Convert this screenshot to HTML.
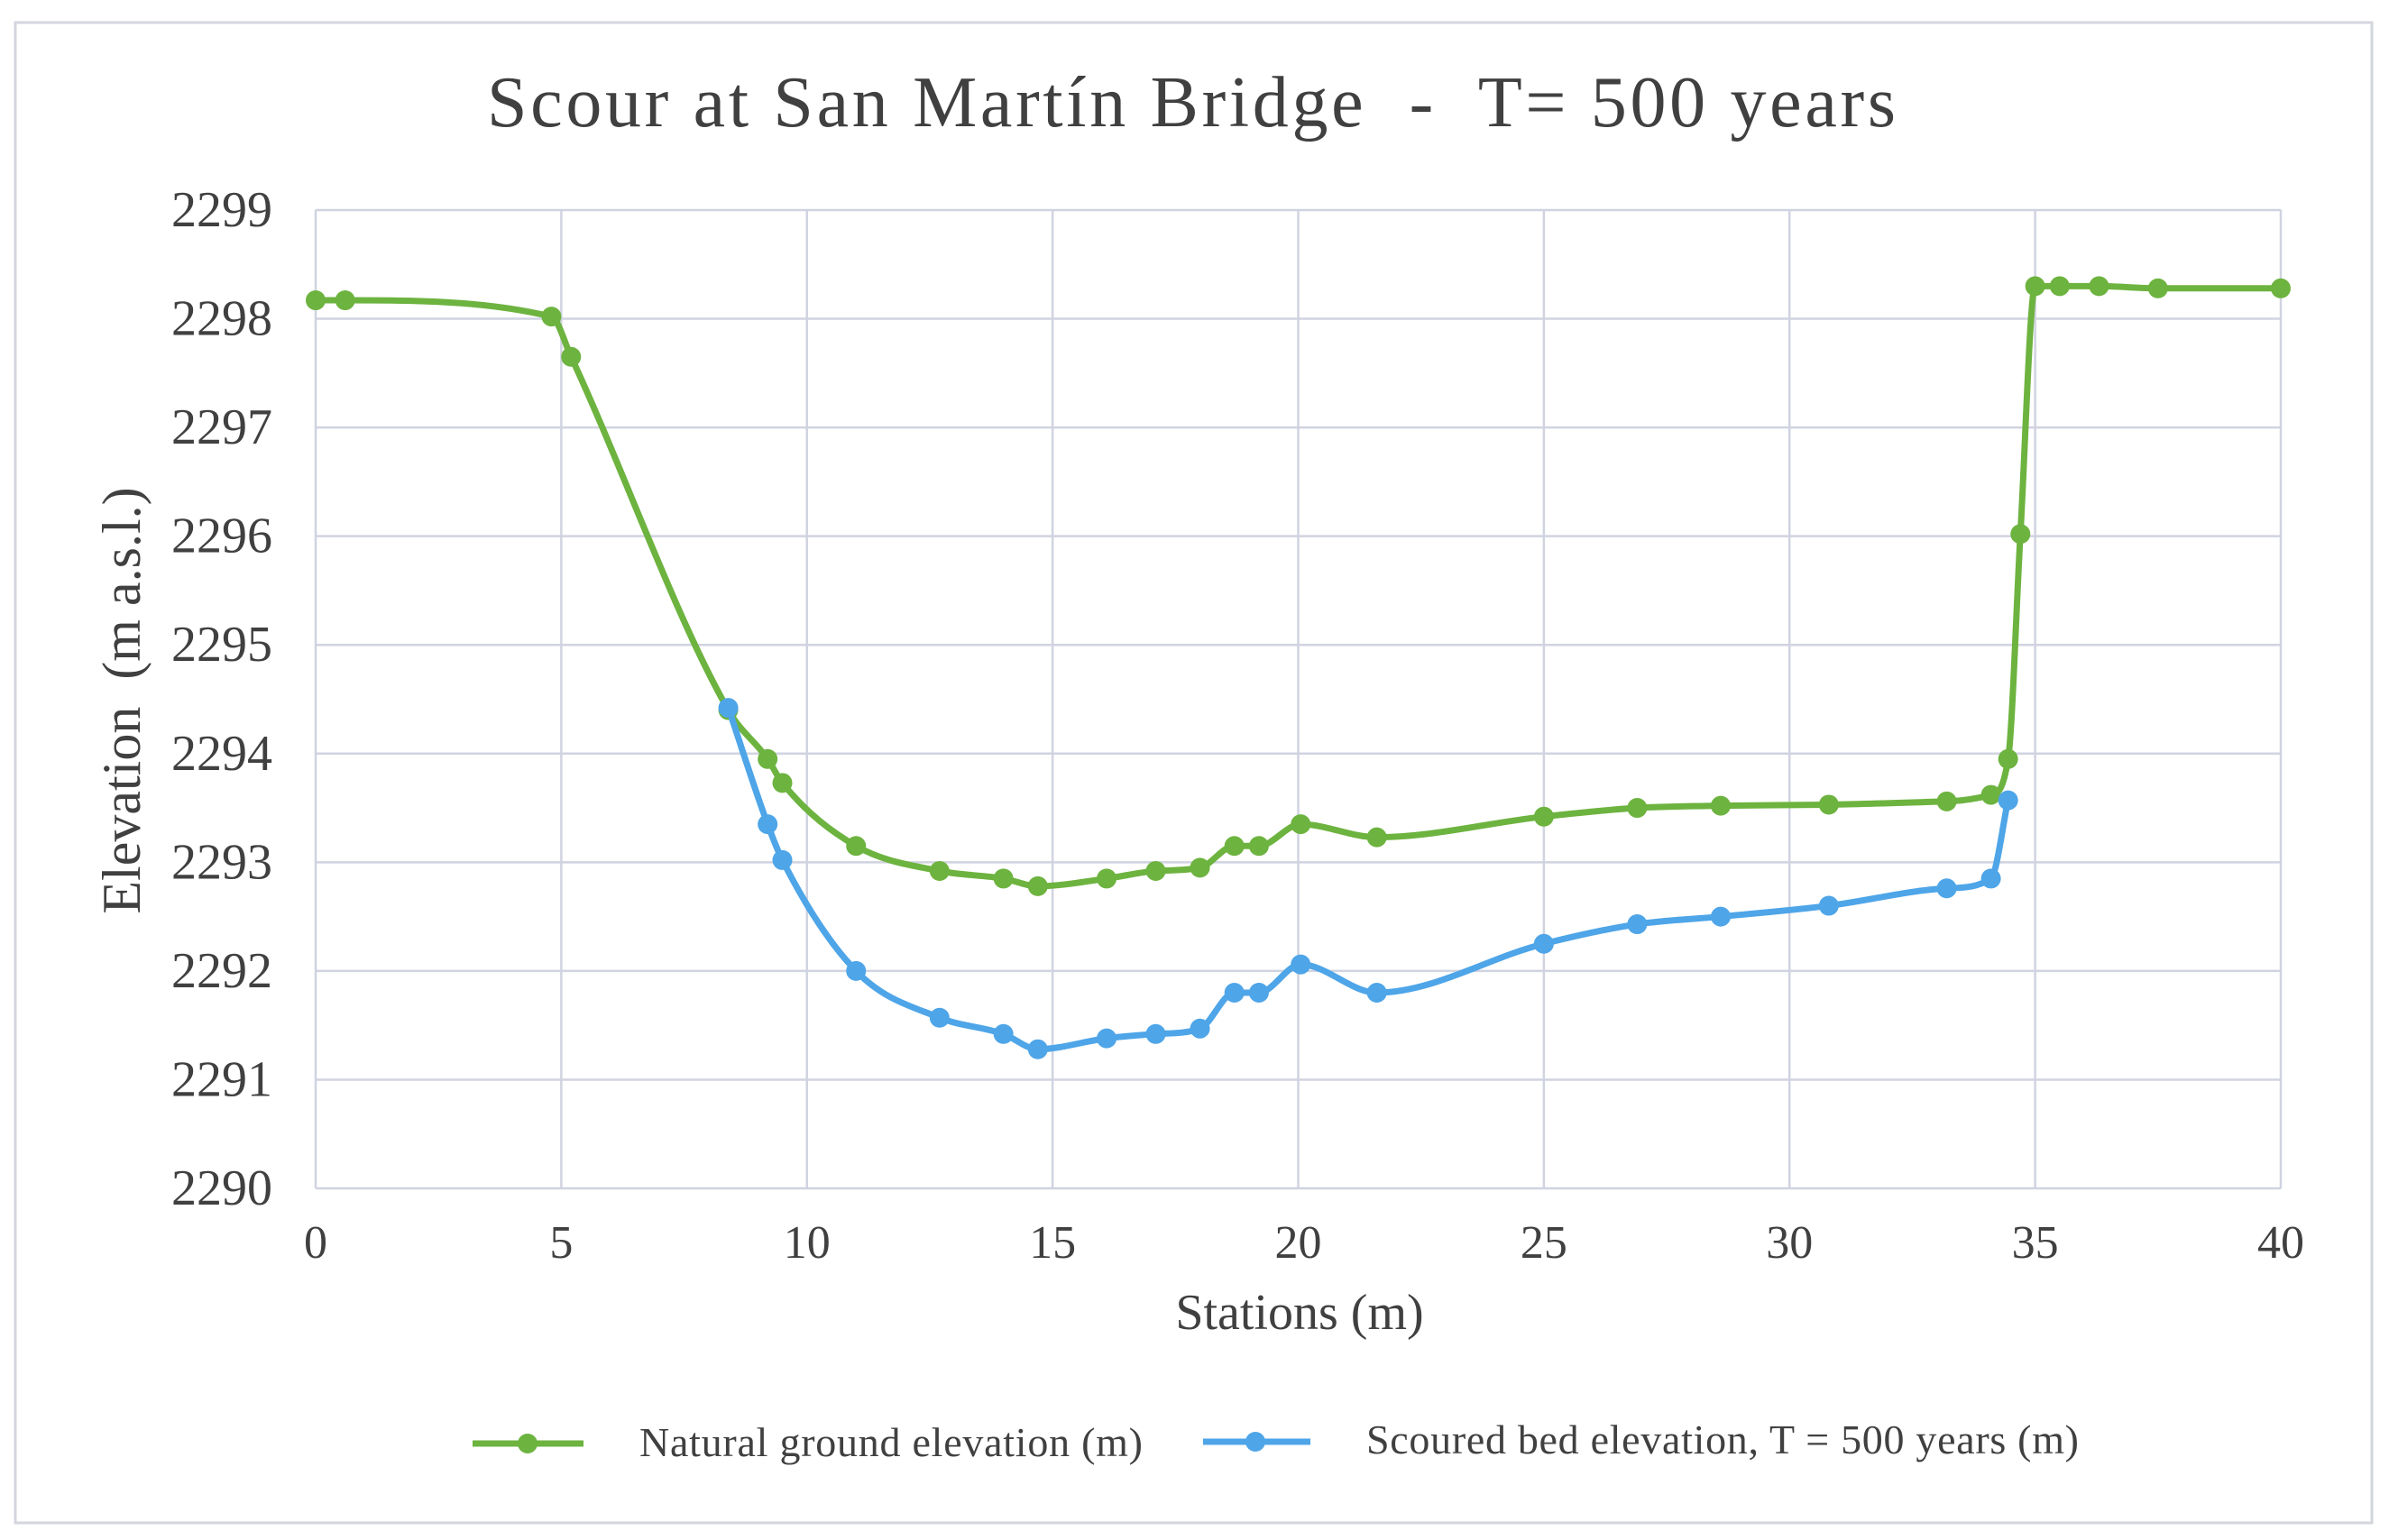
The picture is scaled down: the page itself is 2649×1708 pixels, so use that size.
<!DOCTYPE html>
<html><head><meta charset="utf-8"><style>
html,body{margin:0;padding:0;background:#fff;}
svg{display:block;}
text{font-family:"Liberation Serif",serif;fill:#404040;white-space:pre;}
</style></head><body>
<svg id="chart" width="2649" height="1708" viewBox="0 0 2649 1708">
<rect x="17" y="25" width="2613" height="1664" fill="#fff" stroke="#d4d6de" stroke-width="3"/>
<text x="540" y="140" font-size="80" textLength="1562" xml:space="preserve">Scour at San Martín Bridge  -  T= 500 years</text>
<g id="grid"></g>
<g id="ticks"></g>
<text x="1441" y="1474" font-size="56" text-anchor="middle">Stations (m)</text>
<text transform="translate(155,777) rotate(-90)" font-size="60" text-anchor="middle" xml:space="preserve">Elevation  (m a.s.l.)</text>
<g id="series"></g>
<g>
<g>
<line x1="524" y1="1601" x2="647" y2="1601" stroke="#6db33f" stroke-width="7"/>
<circle cx="585" cy="1601" r="11" fill="#6db33f"/>
<text x="709" y="1615" font-size="46" textLength="558">Natural ground elevation (m)</text>
</g>
<g>
<line x1="1334" y1="1599" x2="1453" y2="1599" stroke="#4ea5e8" stroke-width="7"/>
<circle cx="1392" cy="1599" r="11" fill="#4ea5e8"/>
<text x="1515" y="1612" font-size="46" textLength="790">Scoured bed elevation, T = 500 years (m)</text>
</g>
</g>
</svg>
<script>
const xTicks=[0,5,10,15,20,25,30,35,40];
const yTicks=[2290,2291,2292,2293,2294,2295,2296,2297,2298,2299];
const greenX=[0,0.6,4.8,5.2,8.4,9.2,9.5,11,12.7,14,14.7,16.1,17.1,18,18.7,19.2,20.05,21.6,25,26.9,28.6,30.8,33.2,34.1,34.45,34.7,35,35.5,36.3,37.5,40];
const greenY=[2298.17,2298.17,2298.02,2297.65,2294.4,2293.95,2293.73,2293.15,2292.92,2292.85,2292.78,2292.85,2292.92,2292.95,2293.15,2293.15,2293.35,2293.23,2293.42,2293.5,2293.52,2293.53,2293.56,2293.62,2293.95,2296.02,2298.3,2298.3,2298.3,2298.28,2298.28];
const blueX=[8.4,9.2,9.5,11,12.7,14,14.7,16.1,17.1,18,18.7,19.2,20.05,21.6,25,26.9,28.6,30.8,33.2,34.1,34.45];
const blueY=[2294.42,2293.35,2293.02,2292.0,2291.57,2291.42,2291.28,2291.38,2291.42,2291.47,2291.8,2291.8,2292.06,2291.8,2292.25,2292.43,2292.5,2292.6,2292.76,2292.85,2293.57];
const L=350,R=2529,T=233,B=1318;
const sx=v=>L+(v-0)/(40-0)*(R-L);
const sy=v=>B-(v-2290)/(2299-2290)*(B-T);
const NS="http://www.w3.org/2000/svg";
function mk(tag,attrs,parent){const e=document.createElementNS(NS,tag);for(const k in attrs)e.setAttribute(k,attrs[k]);parent.appendChild(e);return e;}
const grid=document.getElementById('grid'),ticks=document.getElementById('ticks'),series=document.getElementById('series');
xTicks.forEach(t=>{
 const l=mk('line',{x1:sx(t),x2:sx(t),y1:T,y2:B,stroke:'#d0d3e0','stroke-width':2.5},grid);
 
 
 const tx=mk('text',{x:sx(t),y:1395,'font-size':52,'text-anchor':'middle'},ticks);
 tx.textContent=t;
 
 
});
yTicks.forEach(t=>{
 const l=mk('line',{x1:L,x2:R,y1:sy(t),y2:sy(t),stroke:'#d0d3e0','stroke-width':2.5},grid);
 
 
 const tx=mk('text',{x:302,y:sy(t)+18,'font-size':56,'text-anchor':'end'},ticks);
 tx.textContent=t;
 
 
});
function smooth(pts){
 const n=pts.length,dx=[],m=[],t=[];
 for(let i=0;i<n-1;i++){dx[i]=pts[i+1][0]-pts[i][0];m[i]=(pts[i+1][1]-pts[i][1])/dx[i];}
 t[0]=m[0];t[n-1]=m[n-2];
 for(let i=1;i<n-1;i++){t[i]=(m[i-1]*m[i]<=0)?0:(m[i-1]+m[i])/2;}
 for(let i=0;i<n-1;i++){
  if(m[i]===0){t[i]=0;t[i+1]=0;continue;}
  const a=t[i]/m[i],b=t[i+1]/m[i],s=a*a+b*b;
  if(s>9){const tau=3/Math.sqrt(s);t[i]=tau*a*m[i];t[i+1]=tau*b*m[i];}
 }
 let d=`M${pts[0][0]},${pts[0][1]}`;
 for(let i=0;i<n-1;i++){
  const h=dx[i]/3;
  d+=` C${pts[i][0]+h},${pts[i][1]+t[i]*h} ${pts[i+1][0]-h},${pts[i+1][1]-t[i+1]*h} ${pts[i+1][0]},${pts[i+1][1]}`;
 }
 return d;
}
function draw(xs,ys,color,name){
 const pts=xs.map((x,i)=>[sx(x),sy(ys[i])]);
 const p=mk('path',{d:smooth(pts),fill:'none',stroke:color,'stroke-width':7,'stroke-linejoin':'round'},series);
 
 
 pts.forEach(q=>{
  const c=mk('circle',{cx:q[0],cy:q[1],r:11,fill:color},series);
  
  
 });
}
draw(greenX,greenY,'#6db33f','natural-ground');
draw(blueX,blueY,'#4ea5e8','scoured-bed');
</script>
</body></html>
